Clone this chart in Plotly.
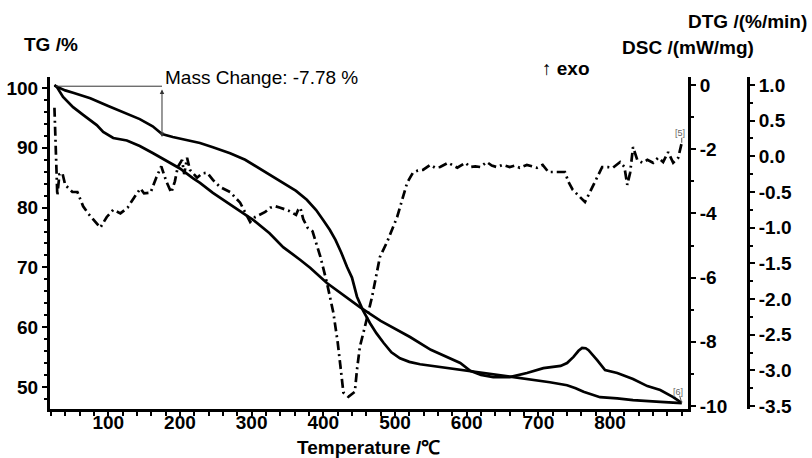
import plotly.graph_objects as go

# ---------------- data ----------------
temp_tg = [25, 40, 51, 75, 100, 121, 144, 162, 175, 190, 210, 228, 246, 270, 291, 298,
           320, 344, 362, 377, 390, 400, 409, 417, 425, 433, 440, 447, 455, 465, 474,
           484, 495, 507, 520, 535, 553, 577, 605, 633, 665, 690, 716, 740, 752, 763,
           775, 786, 810, 832, 870, 900]
tg = [100.4, 99.6, 99.2, 98.3, 97.0, 96.0, 94.8, 93.6, 92.3, 91.8, 91.3, 90.8, 90.1, 89.1,
      88.0, 87.5, 85.9, 84.1, 82.8, 81.3, 79.6, 77.9, 76.3, 74.6, 72.5, 70.1, 68.3, 65.1,
      62.9, 60.7, 59.0, 57.4, 55.8, 54.8, 54.2, 53.8, 53.5, 53.1, 52.6, 52.2, 51.7, 51.3,
      50.8, 50.3, 49.8, 49.2, 48.7, 48.3, 48.1, 47.8, 47.5, 47.3]

temp_dsc = [25, 28, 37, 51, 65, 84, 93, 107, 126, 144, 162, 182, 200, 218, 228, 246, 275,
            302, 325, 344, 368, 382, 405, 430, 451, 480, 507, 521, 550, 575, 591, 605, 620,
            637, 660, 684, 707, 731, 740, 749, 756, 761, 766, 770, 776, 782, 793, 810, 832,
            852, 870, 888, 900]
dsc = [0.0, -0.05, -0.37, -0.69, -0.93, -1.25, -1.46, -1.65, -1.73, -1.90, -2.12, -2.36,
       -2.60, -2.90, -3.05, -3.36, -3.80, -4.20, -4.62, -5.05, -5.45, -5.70, -6.17, -6.58,
       -6.92, -7.35, -7.69, -7.85, -8.25, -8.50, -8.66, -8.90, -9.03, -9.10, -9.10, -8.97,
       -8.82, -8.75, -8.66, -8.47, -8.28, -8.19, -8.20, -8.26, -8.40, -8.57, -8.88, -8.97,
       -9.16, -9.38, -9.50, -9.72, -9.90]

temp_dtg = [25, 26.5, 28, 29, 32, 36, 40, 45, 50, 57, 65, 72, 80, 89, 98, 107, 117, 127,
            136, 145, 150, 159, 167, 174, 181, 188, 193, 197, 203, 206, 210, 214, 224, 231,
            238, 246, 256, 270, 284, 294, 298, 305, 319, 326, 333, 340, 351, 362, 365, 368,
            372, 378, 385, 396, 405, 414, 420, 424, 428, 435, 440, 444, 447, 451, 458, 468,
            479, 489, 503, 510, 517, 525, 532, 539, 549, 556, 563, 574, 580, 587, 598, 605,
            612, 619, 628, 635, 642, 650, 660, 667, 674, 684, 691, 698, 706, 714, 726, 737,
            742, 748, 758, 765, 772, 782, 789, 797, 804, 814, 820, 824, 828, 832, 838, 845,
            852, 860, 867, 874, 881, 888, 895, 900]
dtg = [0.68, 0.30, -0.30, -0.55, -0.25, -0.23, -0.40, -0.45, -0.50, -0.50, -0.70, -0.80,
       -0.90, -1.00, -0.85, -0.75, -0.80, -0.72, -0.58, -0.45, -0.52, -0.51, -0.30, -0.14,
       -0.35, -0.51, -0.35, -0.15, -0.05, -0.25, -0.02, -0.19, -0.30, -0.24, -0.23, -0.33,
       -0.43, -0.50, -0.65, -0.85, -0.92, -0.85, -0.78, -0.72, -0.70, -0.72, -0.76, -0.82,
       -0.75, -0.72, -0.88, -1.00, -1.05, -1.41, -1.77, -2.19, -2.60, -2.95, -3.31, -3.37,
       -3.33, -3.30, -2.99, -2.67, -2.39, -1.97, -1.41, -1.20, -0.85, -0.60, -0.37, -0.23,
       -0.20, -0.19, -0.12, -0.16, -0.15, -0.09, -0.12, -0.16, -0.09, -0.15, -0.14, -0.15,
       -0.08, -0.13, -0.15, -0.12, -0.15, -0.13, -0.16, -0.12, -0.14, -0.16, -0.12, -0.22,
       -0.22, -0.22, -0.36, -0.47, -0.57, -0.64, -0.50, -0.30, -0.15, -0.15, -0.16, -0.08,
       -0.15, -0.40, -0.23, 0.13, -0.05, -0.09, -0.05, -0.09, -0.02, -0.08, 0.06, -0.09,
       -0.02, 0.19]

x_ticks = [100, 200, 300, 400, 500, 600, 700, 800]
x_labels = ["100", "200", "300", "400", "500", "600", "700", "800"]
tg_ticks = [50, 60, 70, 80, 90, 100]
tg_labels = ["50", "60", "70", "80", "90", "100"]
dsc_ticks = [0, -2, -4, -6, -8, -10]
dsc_labels = ["0", "-2", "-4", "-6", "-8", "-10"]
dtg_ticks = [1.0, 0.5, 0.0, -0.5, -1.0, -1.5, -2.0, -2.5, -3.0, -3.5]
dtg_labels = ["1.0", "0.5", "0.0", "-0.5", "-1.0", "-1.5", "-2.0", "-2.5", "-3.0", "-3.5"]

mass_change_start = 100.3
mass_change_end = 92.22
mass_change_temp = 175

# ---------------- figure ----------------
FONT = "Arial, 'Liberation Sans', sans-serif"
BOLD = dict(family=FONT, size=19, color="black", weight="bold")

fig = go.Figure()
fig.add_trace(go.Scatter(x=temp_tg, y=tg, mode="lines", yaxis="y",
                         line=dict(color="black", width=2.7), name="TG"))
fig.add_trace(go.Scatter(x=temp_dsc, y=dsc, mode="lines", yaxis="y2",
                         line=dict(color="black", width=2.7), name="DSC"))
fig.add_trace(go.Scatter(x=temp_dtg, y=dtg, mode="lines", yaxis="y3",
                         line=dict(color="black", width=2.7, dash="9px,4px,2px,4px"),
                         name="DTG"))

PW = 750.0  # plot width in px
common = dict(showline=True, linewidth=3, linecolor="black", ticks="outside", ticklen=5,
              tickwidth=2, tickcolor="black", showgrid=False, zeroline=False,
              tickfont=BOLD, tickmode="array", automargin=False)
x_common = dict(common)
x_common.update(ticks="", ticklen=0)

fig.update_layout(
    width=812, height=458,
    template="none",
    margin=dict(l=50, r=12, t=77, b=49),
    paper_bgcolor="white", plot_bgcolor="white",
    showlegend=False,
    font=dict(family=FONT, color="black"),
    xaxis=dict(domain=[0, 638 / PW], range=[18.8, 908.7], tickvals=x_ticks,
               ticktext=x_labels, ticklabelposition="outside", ticklabelstandoff=-6,
               minor=dict(tickmode="linear", tick0=0, dtick=20, ticks="outside",
                          ticklen=4, tickwidth=2, tickcolor="black"),
               **x_common),
    yaxis=dict(range=[46.32, 101.84], tickvals=tg_ticks, ticktext=tg_labels, side="left",
               anchor="x",
               minor=dict(tickmode="linear", tick0=0, dtick=2, ticks="outside",
                          ticklen=3, tickwidth=2, tickcolor="black"),
               **common),
    yaxis2=dict(range=[-10.093, 0.249], tickvals=dsc_ticks, ticktext=dsc_labels,
                overlaying="y", side="right", anchor="x",
                minor=dict(tickmode="linear", tick0=0, dtick=1, ticks="outside",
                           ticklen=3, tickwidth=2, tickcolor="black"),
                **common),
    yaxis3=dict(range=[-3.542, 1.112], tickvals=dtg_ticks, ticktext=dtg_labels,
                overlaying="y", side="right", anchor="free", position=698 / PW,
                minor=dict(tickmode="linear", tick0=0, dtick=0.25, ticks="outside",
                           ticklen=3, tickwidth=2, tickcolor="black"),
                **common),
)

def px_x(px):
    return (px - 50) / PW

def px_y(py):
    return (409 - py) / 332.0

annos = [
    dict(text="Temperature /℃", x=px_x(368), y=px_y(447), xref="paper", yref="paper",
         showarrow=False, font=BOLD, xanchor="center", yanchor="middle"),
    dict(text="TG /%", x=px_x(50.5), y=px_y(44), xref="paper", yref="paper",
         showarrow=False, font=BOLD, xanchor="center", yanchor="middle"),
    dict(text="DSC /(mW/mg)", x=px_x(688), y=px_y(47), xref="paper", yref="paper",
         showarrow=False, font=BOLD, xanchor="center", yanchor="middle"),
    dict(text="DTG /(%/min)", x=px_x(747), y=px_y(22), xref="paper", yref="paper",
         showarrow=False, font=BOLD, xanchor="center", yanchor="middle"),
    dict(text="↑ <b>exo</b>", x=px_x(566), y=px_y(68), xref="paper", yref="paper",
         showarrow=False, font=dict(family=FONT, size=19, color="black"),
         xanchor="center", yanchor="middle"),
    dict(text="Mass Change: -7.78 %", x=mass_change_temp + 1, y=101.8, xref="x", yref="y",
         showarrow=False, font=dict(family=FONT, size=19, color="black"),
         xanchor="left", yanchor="middle"),
    dict(text="", x=mass_change_temp, y=mass_change_end - 0.4, xref="x", yref="y",
         ax=mass_change_temp, ay=mass_change_start - 0.3, axref="x", ayref="y",
         showarrow=True, arrowside="end+start", arrowhead=2, arrowsize=0.9,
         arrowwidth=1, arrowcolor="#333333"),
    dict(text="[5]", x=898, y=0.33, xref="x", yref="y3", showarrow=False,
         font=dict(family=FONT, size=9, color="#666666"), xanchor="center",
         yanchor="middle"),
    dict(text="[6]", x=895, y=-9.55, xref="x", yref="y2", showarrow=False,
         font=dict(family=FONT, size=9, color="#666666"), xanchor="center",
         yanchor="middle"),
]
fig.update_layout(annotations=annos)

fig.add_shape(type="line", xref="x", yref="y", x0=27, x1=mass_change_temp,
              y0=mass_change_start, y1=mass_change_start,
              line=dict(color="#333333", width=1))
fig.add_shape(type="line", xref="x", yref="y3", x0=900, x1=900, y0=0.19, y1=0.26,
              line=dict(color="#555555", width=1))
fig.add_shape(type="line", xref="x", yref="y2", x0=897, x1=900, y0=-9.68, y1=-9.9,
              line=dict(color="#555555", width=1))

fig.write_html("out.html")
